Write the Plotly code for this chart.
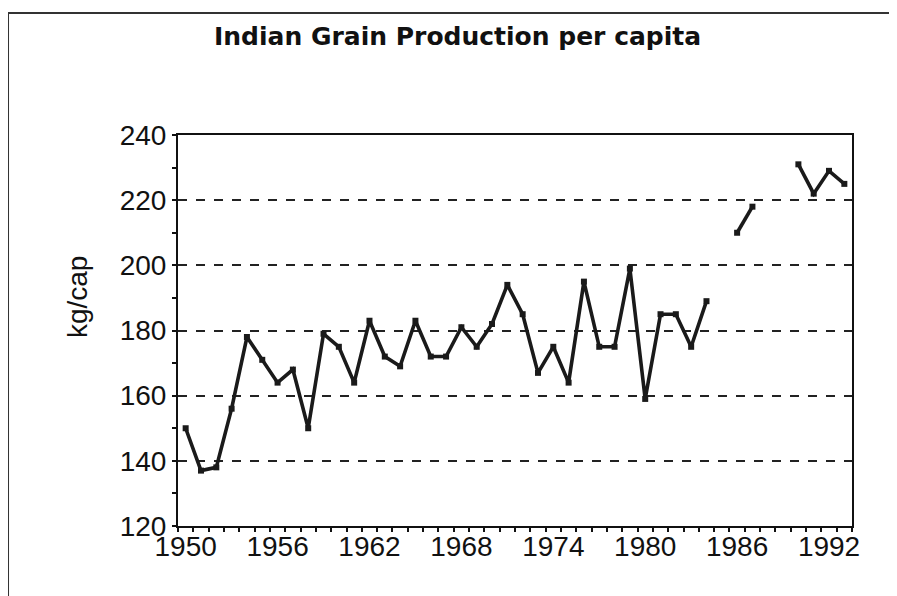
import plotly.graph_objects as go

# per-capita grain production in India, kg per person (gaps = no data)
years = list(range(1950, 1994))
kg_per_cap = [
    150, 137, 138, 156, 178, 171, 164, 168, 150, 179,
    175, 164, 183, 172, 169, 183, 172, 172, 181, 175,
    182, 194, 185, 167, 175, 164, 195, 175, 175, 199,
    159, 185, 185, 175, 189, None, 210, 218, None, None,
    231, 222, 229, 225,
]
label_years = [1950, 1956, 1962, 1968, 1974, 1980, 1986, 1992]
y_ticks = [120, 140, 160, 180, 200, 220, 240]

TICK_FONT = dict(family="Liberation Sans, Arial", size=28, color="#111")

fig = go.Figure()

fig.add_trace(go.Scatter(
    x=years,
    y=kg_per_cap,
    mode="lines+markers",
    connectgaps=False,
    line=dict(color="#1a1a1a", width=3.6),
    marker=dict(symbol="square", size=6, color="#1a1a1a"),
    showlegend=False,
))

fig.update_layout(
    width=897,
    height=596,
    margin=dict(l=170, r=53, t=127, b=78),
    paper_bgcolor="white",
    plot_bgcolor="white",
    xaxis=dict(
        range=[1949.5, 1993.5],
        tickvals=label_years,
        ticktext=[str(y) for y in label_years],
        ticks="",
        ticklabelstandoff=-6,
        minor=dict(ticks="outside", tick0=1949.5, dtick=1, ticklen=4, tickwidth=1.5, tickcolor="#111"),
        tickfont=TICK_FONT,
        showline=True, linecolor="#111", linewidth=2, mirror=True,
        showgrid=False, zeroline=False,
    ),
    xaxis2=dict(
        range=[1949.5, 1993.5],
        overlaying="x",
        anchor="y",
        tick0=1949.5, dtick=1,
        ticks="inside", ticklen=4, tickwidth=1.5, tickcolor="#111",
        showticklabels=False, showgrid=False, zeroline=False, showline=False,
    ),
    yaxis=dict(
        range=[120, 240],
        tickvals=y_ticks,
        ticks="outside", ticklen=4, tickwidth=1.5, tickcolor="#111",
        minor=dict(ticks="outside", dtick=10, ticklen=4, tickwidth=1.5, tickcolor="#111"),
        tickfont=TICK_FONT,
        showline=True, linecolor="#111", linewidth=2, mirror=True,
        showgrid=True, gridcolor="#222", gridwidth=1.8, griddash="dash",
        zeroline=False,
    ),
    yaxis2=dict(
        range=[120, 240],
        overlaying="y",
        anchor="x",
        dtick=10,
        ticks="inside", ticklen=4, tickwidth=1.5, tickcolor="#111",
        showticklabels=False, showgrid=False, zeroline=False, showline=False,
    ),
    annotations=[
        dict(
            text="<b>Indian Grain Production per capita</b>",
            xref="paper", yref="paper", x=0.4154, y=1.252,
            xanchor="center", yanchor="middle", showarrow=False,
            font=dict(family="DejaVu Sans", size=25, color="#111"),
        ),
        dict(
            text="kg/cap",
            xref="paper", yref="paper", x=-0.148, y=0.586,
            xanchor="center", yanchor="middle", textangle=-90, showarrow=False,
            font=dict(family="Liberation Sans, Arial", size=28, color="#111"),
        ),
    ],
    shapes=[
        # scanned page frame: top and left edges
        dict(type="line", xref="paper", yref="paper", x0=-0.2522, x1=1.1, y0=1.312, y1=1.312,
             line=dict(color="#333", width=2)),
        dict(type="line", xref="paper", yref="paper", x0=-0.2522, x1=-0.2522, y0=1.312, y1=-0.25,
             line=dict(color="#333", width=2)),
    ],
)

fig.write_html("out.html")
